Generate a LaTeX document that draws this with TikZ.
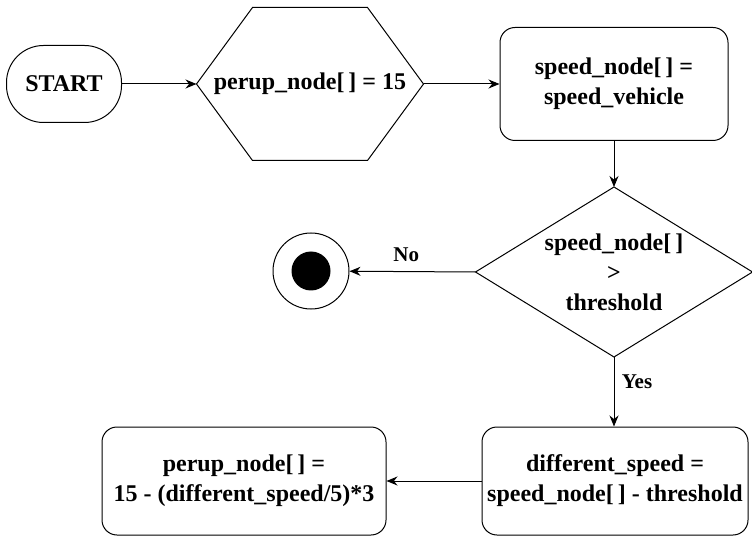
\documentclass[tikz,border=0pt]{standalone}
\usepackage{fontspec}
\setmainfont{LiberationSerif}[Extension=.ttf, UprightFont=*-Regular, BoldFont=*-Bold]
\usetikzlibrary{arrows.meta}

\tikzset{
	box/.style={font=\fontsize{24}{30}\selectfont\bfseries, align=center, line width=1pt, inner sep=0pt},
	startstop/.style={box, draw, rounded corners=37pt, minimum width=115pt, minimum height=77pt},
	process/.style={box, draw, rounded corners=15pt},
	prep/.style={box, minimum width=226pt, minimum height=152pt},
	decision/.style={box, minimum width=276pt, minimum height=169pt},
	endstate/.style={draw, circle, line width=1pt, minimum size=76pt, inner sep=0pt,
		path picture={\fill (path picture bounding box.center) circle (19.5pt);}},
	flow/.style={line width=1pt, -{Stealth[length=11pt,width=9pt]}},
	lbl/.style={font=\fontsize{21}{25}\selectfont\bfseries}
}

\begin{document}
\begin{tikzpicture}[x=1pt,y=-1pt]
	\useasboundingbox (0,0) rectangle (752,537);

	\node[startstop] (start) at (64,84) {START};
	\node[prep] (init) at (310,84) {perup\_node[\,] = 15};
	% hexagon round the first assignment
	\draw[line width=1pt] (init.west) -- ([xshift=56pt]init.north west) -- ([xshift=-56pt]init.north east)
		-- (init.east) -- ([xshift=-56pt]init.south east) -- ([xshift=56pt]init.south west) -- cycle;
	\node[process, minimum width=228pt, minimum height=113pt] (speed) at (614,84) {speed\_node[\,] =\\speed\_vehicle};
	\node[decision] (check) at (614,272) {speed\_node[\,]\\\textgreater\\threshold};
	\draw[line width=1pt] (check.north) -- (check.east) -- (check.south) -- (check.west) -- cycle;
	\node[endstate] (stop) at (311,271) {};
	\node[process, minimum width=266pt, minimum height=108pt] (diff) at (615,481) {different\_speed =\\speed\_node[\,] - threshold};
	\node[process, minimum width=284pt, minimum height=108pt] (perup) at (244,481) {perup\_node[\,] =\\15 - (different\_speed/5)*3};

	\path[flow]
	(start) edge (init)
	(init.east) edge (speed)
	(speed) edge (check.north)
	(check.west) edge node [lbl, above=6pt, pos=0.55] {No} (stop)
	(check.south) edge node [lbl, right=4pt, pos=0.35] {Yes} (check.south |- diff.north)
	(diff) edge (perup);

\end{tikzpicture}
\end{document}
